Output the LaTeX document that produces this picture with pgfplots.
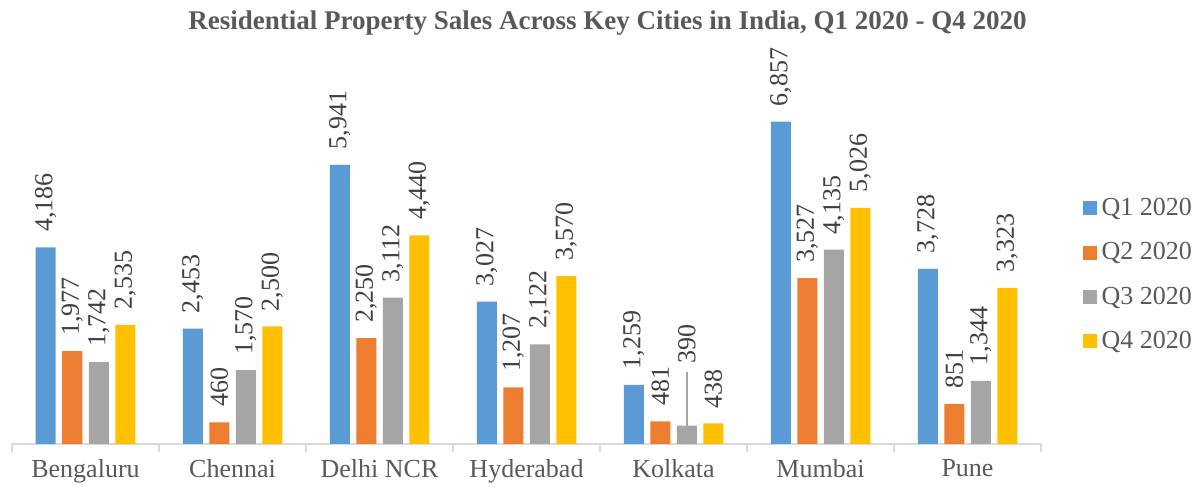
\documentclass[border=0pt]{standalone}
\usepackage{pgfplots}
\pgfplotsset{compat=1.18}
\usepackage{pgfplotstable}
\usepackage{fontspec}
\setmainfont{Liberation Serif}
\definecolor{cQ1}{HTML}{5B9BD5}
\definecolor{cQ2}{HTML}{ED7D31}
\definecolor{cQ3}{HTML}{A5A5A5}
\definecolor{cQ4}{HTML}{FFC000}
\definecolor{txt}{HTML}{595959}
\definecolor{lbl}{HTML}{404040}
\definecolor{axl}{HTML}{D9D9D9}
\pgfplotstableread{
x q1 q2 q3 q4 err off
0 4186 1977 1742 2535 0 0
1 2453 460 1570 2500 0 0
2 5941 2250 3112 4440 0 0
3 3027 1207 2122 3570 0 0
4 1259 481 390 438 1149 23.5
5 6857 3527 4135 5026 0 0
6 3728 851 1344 3323 0 0
}\data
\begin{document}
\begin{tikzpicture}
\begin{axis}[
  scale only axis, width=514.5pt, height=188pt,
  ybar=3.25pt, bar width=10pt,
  xmin=-0.5, xmax=6.5, ymin=0, ymax=8000,
  axis x line*=bottom, axis y line=none,
  x axis line style={axl, line width=0.8pt, -},
  xtick={0,...,6},
  xticklabels={Bengaluru,Chennai,Delhi NCR,Hyderabad,Kolkata,Mumbai,Pune},
  major x tick style={draw=none},
  minor xtick={-0.5,0.5,...,6.5},
  minor x tick style={axl, line width=0.8pt},
  minor tick length=4pt,
  tick align=outside,
  xticklabel style={font=\fontsize{13pt}{15pt}\selectfont, text=txt, yshift=0pt},
  title={Residential Property Sales Across Key Cities in India, Q1 2020 - Q4 2020},
  title style={font=\fontsize{13.5pt}{16pt}\selectfont\bfseries, text=txt, at={(0.5,1)}, anchor=center, yshift=16.5pt, xshift=40.5pt},
  nodes near coords,
  every node near coord/.append style={font=\fontsize{13pt}{15pt}\selectfont, text=lbl, rotate=90, anchor=west, inner sep=0pt, xshift=7.5pt},
  /pgf/number format/.cd, fixed, precision=0, 1000 sep={,}, assume math mode=true,
  /pgfplots/.cd,
  enlarge x limits=false,
  legend style={at={(1.04,0.45)}, anchor=west, draw=none, fill=none,
    font=\fontsize{13pt}{15pt}\selectfont, text=txt, row sep=8pt, inner sep=0pt,
    nodes={inner xsep=2.5pt}},
  legend cell align=left,
  legend image code/.code={\fill[#1] (0pt,-3.5pt) rectangle (7pt,3.5pt);},
]
\addplot[fill=cQ1, draw=none] table[x=x, y=q1] {\data};
\addplot[fill=cQ2, draw=none] table[x=x, y=q2] {\data};
\addplot[fill=cQ3, draw=none,
  visualization depends on={\thisrow{off} \as \off},
  every node near coord/.append style={xshift=\off pt},
  error bars/.cd, y dir=plus, y explicit, error mark=none,
  error bar style={cQ3, line width=0.8pt}] table[x=x, y=q3, y error=err] {\data};
\addplot[fill=cQ4, draw=none] table[x=x, y=q4] {\data};
\legend{Q1 2020, Q2 2020, Q3 2020, Q4 2020}
\coordinate (BL) at (rel axis cs:0,0);
\coordinate (TR) at (rel axis cs:1,1);
\end{axis}
\path ([xshift=-6pt,yshift=-24pt]BL) rectangle ([xshift=81pt,yshift=34pt]TR);
\end{tikzpicture}
\end{document}
